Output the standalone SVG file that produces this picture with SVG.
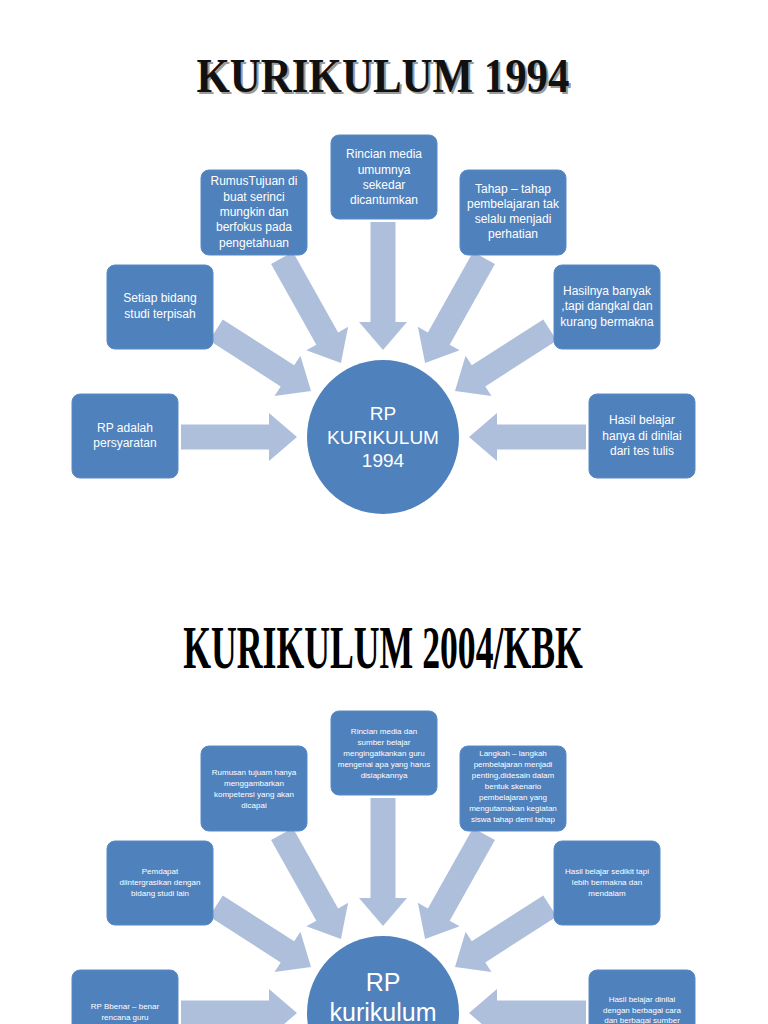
<svg xmlns="http://www.w3.org/2000/svg" width="768" height="1024" viewBox="0 0 768 1024">
<style>
.node{fill:#4F81BD;stroke:#5B8AC4;stroke-width:1}
.hub{fill:#4F81BD}
.arrow{fill:#AEBFDC}
.t1{font-family:"Liberation Sans",Arial,sans-serif;font-size:12px;fill:#FFFFFF;text-anchor:middle}
.t2{font-family:"Liberation Sans",Arial,sans-serif;font-size:8px;fill:#FFFFFF;text-anchor:middle}
.hubt1{font-family:"Liberation Sans",Arial,sans-serif;font-size:19px;fill:#FFFFFF;text-anchor:middle}
.hubt2{font-family:"Liberation Sans",Arial,sans-serif;font-size:25px;fill:#FFFFFF;text-anchor:middle}
</style>
<rect width="768" height="1024" fill="#FFFFFF"/>

<!-- Title 1 -->
<g id="title1">
<text x="385" y="94" font-family="Liberation Serif,serif" font-weight="bold" font-size="48" fill="#9A9A9A" text-anchor="middle" textLength="373" lengthAdjust="spacingAndGlyphs">KURIKULUM 1994</text>
<text x="383" y="92" font-family="Liberation Serif,serif" font-weight="bold" font-size="48" fill="#111111" text-anchor="middle" textLength="373" lengthAdjust="spacingAndGlyphs">KURIKULUM 1994</text>
</g>

<!-- Connectors diagram 1 -->
<g id="connectors1">
<path class="arrow" d="M0,-12.5 H92.4 V-24 L120.4,0 L92.4,24 V12.5 H0 Z" transform="translate(282,258) rotate(60.7)"/>
<path class="arrow" d="M0,-12.5 H92.4 V-24 L120.4,0 L92.4,24 V12.5 H0 Z" transform="translate(484,258) rotate(119.3)"/>
<path class="arrow" d="M0,-12.5 H100 V-24 L128,0 L100,24 V12.5 H0 Z" transform="translate(383,222) rotate(90)"/>
<path class="arrow" d="M0,-12.5 H84.9 V-24 L112.9,0 L84.9,24 V12.5 H0 Z" transform="translate(216,330) rotate(32.7)"/>
<path class="arrow" d="M0,-12.5 H84.9 V-24 L112.9,0 L84.9,24 V12.5 H0 Z" transform="translate(550,330) rotate(147.3)"/>
<path class="arrow" d="M0,-12.5 H88 V-24 L116,0 L88,24 V12.5 H0 Z" transform="translate(181,437)"/>
<path class="arrow" d="M0,-12.5 H89 V-24 L117,0 L89,24 V12.5 H0 Z" transform="translate(586,437) rotate(180)"/>
</g>

<g id="d1-top">
<rect class="node" x="331" y="135" width="106" height="84" rx="8"/>
<text class="t1"><tspan x="384" y="158">Rincian media</tspan><tspan x="384" y="174">umumnya</tspan><tspan x="384" y="189">sekedar</tspan><tspan x="384" y="204">dicantumkan</tspan></text>
</g>
<g id="d1-topleft">
<rect class="node" x="201" y="170" width="106" height="85" rx="8"/>
<text class="t1"><tspan x="254" y="185">RumusTujuan di</tspan><tspan x="254" y="201">buat serinci</tspan><tspan x="254" y="216">mungkin dan</tspan><tspan x="254" y="231">berfokus pada</tspan><tspan x="254" y="247">pengetahuan</tspan></text>
</g>
<g id="d1-topright">
<rect class="node" x="460" y="170" width="106" height="85" rx="8"/>
<text class="t1"><tspan x="513" y="193">Tahap – tahap</tspan><tspan x="513" y="208">pembelajaran tak</tspan><tspan x="513" y="223">selalu menjadi</tspan><tspan x="513" y="238">perhatian</tspan></text>
</g>
<g id="d1-midleft">
<rect class="node" x="107" y="265" width="106" height="84" rx="8"/>
<text class="t1"><tspan x="160" y="302">Setiap bidang</tspan><tspan x="160" y="318">studi terpisah</tspan></text>
</g>
<g id="d1-midright">
<rect class="node" x="554" y="265" width="106" height="84" rx="8"/>
<text class="t1"><tspan x="607" y="295">Hasilnya banyak</tspan><tspan x="607" y="310">,tapi dangkal dan</tspan><tspan x="607" y="326">kurang bermakna</tspan></text>
</g>
<g id="d1-botleft">
<rect class="node" x="72" y="394" width="106" height="84" rx="8"/>
<text class="t1"><tspan x="125" y="432">RP adalah</tspan><tspan x="125" y="447">persyaratan</tspan></text>
</g>
<g id="d1-botright">
<rect class="node" x="589" y="394" width="106" height="84" rx="8"/>
<text class="t1"><tspan x="642" y="424">Hasil belajar</tspan><tspan x="642" y="440">hanya di dinilai</tspan><tspan x="642" y="455">dari tes tulis</tspan></text>
</g>
<g id="d1-hub">
<ellipse class="hub" cx="383" cy="437" rx="76" ry="77"/>
<text class="hubt1"><tspan x="383" y="420">RP</tspan><tspan x="383" y="444">KURIKULUM</tspan><tspan x="383" y="467">1994</tspan></text>
</g>

<!-- Title 2 -->
<g id="title2">
<text x="0" y="0" transform="translate(383,668) scale(0.576,1)" font-family="Liberation Serif,serif" font-weight="bold" font-size="62" fill="#000000" text-anchor="middle">KURIKULUM 2004/KBK</text>
</g>

<!-- Connectors diagram 2 -->
<g id="connectors2" transform="translate(0,576)">
<path class="arrow" d="M0,-12.5 H92.4 V-24 L120.4,0 L92.4,24 V12.5 H0 Z" transform="translate(282,258) rotate(60.7)"/>
<path class="arrow" d="M0,-12.5 H92.4 V-24 L120.4,0 L92.4,24 V12.5 H0 Z" transform="translate(484,258) rotate(119.3)"/>
<path class="arrow" d="M0,-12.5 H100 V-24 L128,0 L100,24 V12.5 H0 Z" transform="translate(383,222) rotate(90)"/>
<path class="arrow" d="M0,-12.5 H84.9 V-24 L112.9,0 L84.9,24 V12.5 H0 Z" transform="translate(216,330) rotate(32.7)"/>
<path class="arrow" d="M0,-12.5 H84.9 V-24 L112.9,0 L84.9,24 V12.5 H0 Z" transform="translate(550,330) rotate(147.3)"/>
<path class="arrow" d="M0,-12.5 H88 V-24 L116,0 L88,24 V12.5 H0 Z" transform="translate(181,437)"/>
<path class="arrow" d="M0,-12.5 H89 V-24 L117,0 L89,24 V12.5 H0 Z" transform="translate(586,437) rotate(180)"/>
</g>

<g id="d2-top">
<rect class="node" x="331" y="711" width="106" height="84" rx="8"/>
<text class="t2"><tspan x="384" y="734">Rincian media dan</tspan><tspan x="384" y="745">sumber belajar</tspan><tspan x="384" y="756">mengingatkankan guru</tspan><tspan x="384" y="767">mengenai apa yang harus</tspan><tspan x="384" y="778">disiapkannya</tspan></text>
</g>
<g id="d2-topleft">
<rect class="node" x="201" y="746" width="106" height="85" rx="8"/>
<text class="t2"><tspan x="254" y="775">Rumusan tujuam hanya</tspan><tspan x="254" y="786">menggambarkan</tspan><tspan x="254" y="797">kompetensi yang akan</tspan><tspan x="254" y="808">dicapai</tspan></text>
</g>
<g id="d2-topright">
<rect class="node" x="460" y="746" width="106" height="85" rx="8"/>
<text class="t2"><tspan x="513" y="756">Langkah – langkah</tspan><tspan x="513" y="767">pembelajaran menjadi</tspan><tspan x="513" y="778">penting,didesain dalam</tspan><tspan x="513" y="789">bentuk skenario</tspan><tspan x="513" y="800">pembelajaran yang</tspan><tspan x="513" y="811">mengutamakan kegiatan</tspan><tspan x="513" y="822">siswa tahap demi tahap</tspan></text>
</g>
<g id="d2-midleft">
<rect class="node" x="107" y="841" width="106" height="84" rx="8"/>
<text class="t2"><tspan x="160" y="874">Pemdapat</tspan><tspan x="160" y="885">diintergrasikan dengan</tspan><tspan x="160" y="896">bidang studi lain</tspan></text>
</g>
<g id="d2-midright">
<rect class="node" x="554" y="841" width="106" height="84" rx="8"/>
<text class="t2"><tspan x="607" y="874">Hasil belajar sedikit tapi</tspan><tspan x="607" y="885">lebih bermakna dan</tspan><tspan x="607" y="896">mendalam</tspan></text>
</g>
<g id="d2-botleft">
<rect class="node" x="72" y="970" width="106" height="84" rx="8"/>
<text class="t2"><tspan x="125" y="1009">RP Bbenar – benar</tspan><tspan x="125" y="1020">rencana guru</tspan></text>
</g>
<g id="d2-botright">
<rect class="node" x="589" y="970" width="106" height="84" rx="8"/>
<text class="t2"><tspan x="642" y="1002">Hasil belajar dinilai</tspan><tspan x="642" y="1013">dengan berbagai cara</tspan><tspan x="642" y="1023">dan berbagai sumber</tspan></text>
</g>
<g id="d2-hub">
<ellipse class="hub" cx="383" cy="1013" rx="76" ry="77"/>
<text class="hubt2"><tspan x="383" y="991">RP</tspan><tspan x="383" y="1021">kurikulum</tspan></text>
</g>
</svg>
